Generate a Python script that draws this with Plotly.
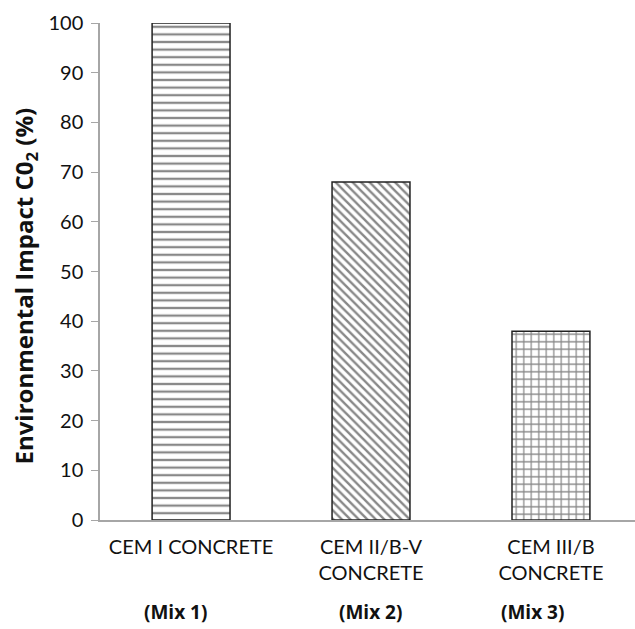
import plotly.graph_objects as go

# Relative CO2 impact of the three concrete mixes (CEM I = 100 %)
categories = ["CEM I CONCRETE", "CEM II/B-V<br>CONCRETE", "CEM III/B<br>CONCRETE"]
mix_labels = ["(Mix 1)", "(Mix 2)", "(Mix 3)"]
impact = [100, 68, 38]
patterns = ["-", "\\", "+"]
pattern_sizes = [7.6, 6, 7.5]
pattern_solidity = [0.3, 0.4, 0.3]
mix_shifts = [-16, -1, -18]
y_title = "<b>Environmental Impact C0<sub>2</sub> (%)</b>"

FONT = "Lato, Open Sans, sans-serif"
BOLD_FONT = "Open Sans, Noto Sans, sans-serif"

fig = go.Figure()
fig.add_trace(go.Bar(
    x=categories,
    y=impact,
    width=0.433,
    marker=dict(
        color="white",
        line=dict(color="#222222", width=1.5),
        pattern=dict(shape=patterns, size=pattern_sizes, solidity=pattern_solidity,
                     fgcolor="#111111", bgcolor="white"),
    ),
    showlegend=False,
))

for cat, lab, sh in zip(categories, mix_labels, mix_shifts):
    fig.add_annotation(
        x=cat, y=0, xref="x", yref="y",
        text=f"<b>{lab}</b>", showarrow=False,
        yshift=-92, xshift=sh,
        font=dict(family=BOLD_FONT, size=19, color="#111111"),
    )

# Vertical axis title, placed slightly below the middle of the axis
fig.add_annotation(
    x=-0.14, y=0.47, xref="paper", yref="paper",
    text=y_title, textangle=-90, showarrow=False,
    xanchor="center", yanchor="middle",
    font=dict(family=BOLD_FONT, size=24, color="#111111"),
)

fig.update_layout(
    width=635, height=629,
    margin=dict(l=100, r=0, t=23, b=109),
    paper_bgcolor="white", plot_bgcolor="white",
    font=dict(family=FONT, size=20, color="#111111"),
)
fig.update_xaxes(
    range=[-0.506, 2.467],
    showline=True, linecolor="#a6a6a6", linewidth=1.5,
    ticks="", showgrid=False,
    tickfont=dict(family=FONT, size=20),
    ticklabelstandoff=8,
)
fig.update_yaxes(
    range=[0, 100], dtick=10,
    showline=True, linecolor="#a6a6a6", linewidth=1.5,
    ticks="outside", ticklen=7, tickcolor="#a6a6a6",
    showgrid=False, zeroline=False,
    tickfont=dict(family=FONT, size=20),
    ticklabelstandoff=4,
)

fig.write_html("out.html")
